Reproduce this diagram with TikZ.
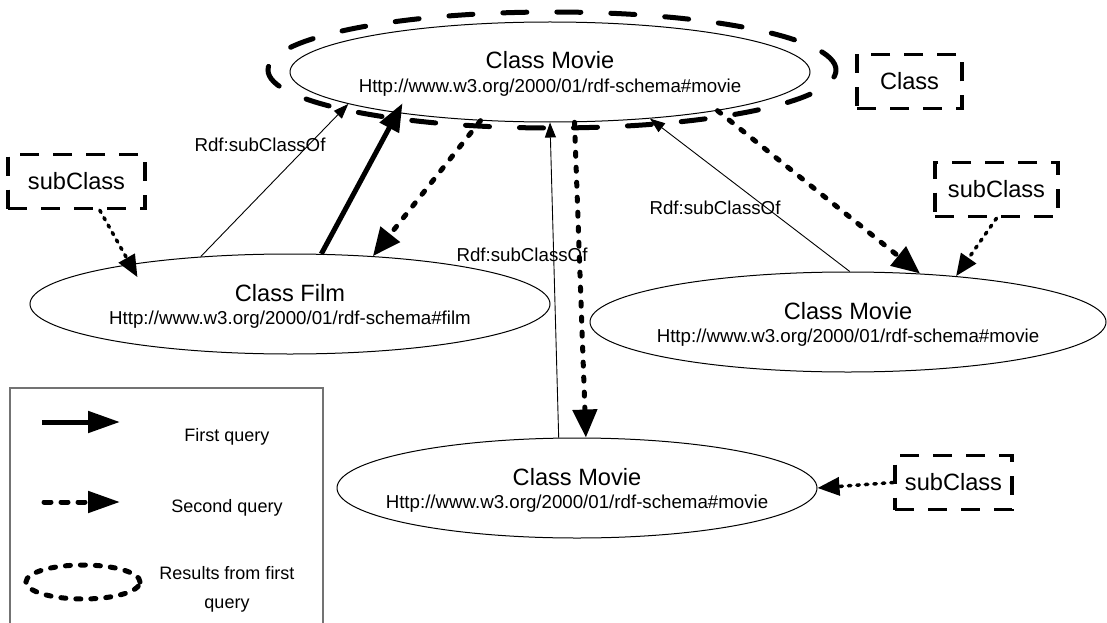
\documentclass[tikz,border=0pt]{standalone}
\usepackage{fontspec}
\setmainfont{Liberation Sans}
\usetikzlibrary{arrows.meta,shapes.geometric}
\newcommand\fTitle{\fontsize{23.6}{28}\selectfont}
\newcommand\fUrl{\fontsize{18.7}{22}\selectfont}
\newcommand\fKey{\fontsize{18}{22}\selectfont}

\begin{document}
\begin{tikzpicture}[x=1pt,y=-1pt,
  cls/.style={ellipse,draw,line width=1pt,inner sep=0pt,minimum width=#1,minimum height=100pt},
  result/.style={ellipse,draw,line width=5pt,line cap=round,dash pattern=on 24pt off 30pt,
    inner sep=0pt,minimum width=568pt,minimum height=116pt},
  ttl/.style={font=\fTitle,anchor=base,inner sep=0pt},
  url/.style={font=\fUrl,anchor=base,inner sep=0pt},
  lbl/.style={font=\fUrl,inner sep=0pt},
  key/.style={font=\fKey,inner sep=0pt},
  tagbox/.style={draw,line width=3.5pt,dash pattern=on 19pt off 14pt,font=\fTitle,
    inner sep=0pt,minimum width=#1,minimum height=54pt},
  thin/.style={line width=0.9pt,-{Triangle[length=15pt,width=11pt]}},
  firstq/.style={line width=5pt,-{Triangle[length=28pt,width=21pt]}},
  secondq/.style={line width=5pt,line cap=round,dash pattern=on 4pt off 11pt,
    -{Triangle[length=28pt,width=24pt]}},
  subq/.style={line width=3.5pt,line cap=round,dash pattern=on 2.5pt off 6pt,
    -{Triangle[length=22pt,width=18pt]}}
]
\useasboundingbox (0,0) rectangle (1107,623);

% result of the first query
\node[result] (O) at (552,70) {};

% classes
\node[cls=520pt] (T) at (550,72) {};
\node[ttl] (Tt) at ([yshift=3pt]T.center) {Class Movie};
\node[url] (Tu) at ([yshift=-20.7pt]T.center) {Http://www.w3.org/2000/01/rdf-schema\#movie};

\node[cls=520pt] (F) at (290,304) {};
\node[ttl] (Ft) at ([yshift=3pt]F.center) {Class Film};
\node[url] (Fu) at ([yshift=-20.7pt]F.center) {Http://www.w3.org/2000/01/rdf-schema\#film};

\node[cls=516pt] (R) at (848,322) {};
\node[ttl] (Rt) at ([yshift=3pt]R.center) {Class Movie};
\node[url] (Ru) at ([yshift=-20.7pt]R.center) {Http://www.w3.org/2000/01/rdf-schema\#movie};

\node[cls=480pt] (B) at (577,488) {};
\node[ttl] (Bt) at ([yshift=3pt]B.center) {Class Movie};
\node[url] (Bu) at ([yshift=-20.7pt]B.center) {Http://www.w3.org/2000/01/rdf-schema\#movie};

% role tags
\node[tagbox=105pt] (C) at (909.5,81.5) {Class};
\node[tagbox=137pt] (S1) at (76.5,181.5) {subClass};
\node[tagbox=123pt] (S2) at (996.5,189.5) {subClass};
\node[tagbox=117pt] (S3) at (953.5,482.5) {subClass};

% rdfs:subClassOf links
\draw[thin] (F.152.9) -- (T.189);
\draw[thin] (B.110.8) -- (T.270);
\draw[thin] (R.88) -- (T.335);
\node[lbl] (L1) at (260,145) {Rdf:subClassOf};
\node[lbl] (L2) at (522,255) {Rdf:subClassOf};
\node[lbl] (L3) at (715,208) {Rdf:subClassOf};

% first query
\draw[firstq,shorten >=-11pt] (F.58) -- (T.195.7);

% second query
\draw[secondq] (T.215.6) -- (F.30);
\draw[secondq] (T.296.6) -- (B.80.9);
\draw[secondq] (T.347.7) -- (R.34.2);

% tags pointing at their classes
\draw[subq,shorten >=-15pt] (S1.309) -- (F.166.5);
\draw[subq] (S2.south) -- (R.23.1);
\draw[subq] (S3.west) -- (B.0);

% legend
\draw[line width=1.2pt,draw=black!55] (10,650) -- (10,388) -- (323,388) -- (323,650);
\coordinate (k1a) at (42,422);
\coordinate (k1b) at (120,422);
\coordinate (k2a) at (44,502);
\coordinate (k2b) at (120,502);
\draw[line width=5pt,-{Triangle[length=32pt,width=21pt]}] (k1a) -- (k1b);
\draw[line width=5pt,line cap=round,dash pattern=on 7pt off 10pt,
  -{Triangle[length=32pt,width=21pt]}] (k2a) -- (k2b);
\node[ellipse,draw,line width=5pt,line cap=round,dash pattern=on 5pt off 10pt,
  inner sep=0pt,minimum width=114pt,minimum height=34pt] (k3) at (83,582) {};
\node[key] (k1t) at (227,437) {First query};
\node[key] (k2t) at (227,508) {Second query};
\node[key] (k3t) at (227,573) {Results from first};
\node[key] (k3u) at (227,606) {query};
\end{tikzpicture}
\end{document}
